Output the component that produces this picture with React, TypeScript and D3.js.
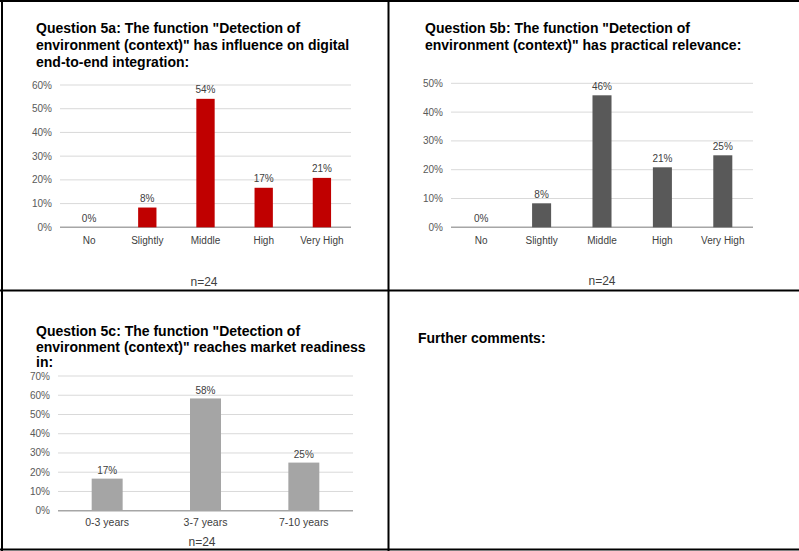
import React from "react";
import * as d3 from "d3";

// Survey results, n = 24 respondents per question
const ratingCategories = ["No", "Slightly", "Middle", "High", "Very High"];
const influenceValues = [0, 2 / 24, 13 / 24, 4 / 24, 5 / 24];
const relevanceValues = [0, 2 / 24, 11 / 24, 5 / 24, 6 / 24];

const readinessCategories = ["0-3 years", "3-7 years", "7-10 years"];
const readinessValues = [4 / 24, 14 / 24, 6 / 24];

const influenceTicks = [0, 0.1, 0.2, 0.3, 0.4, 0.5, 0.6];
const relevanceTicks = [0, 0.1, 0.2, 0.3, 0.4, 0.5];
const readinessTicks = [0, 0.1, 0.2, 0.3, 0.4, 0.5, 0.6, 0.7];

const sampleLabel = "n=24";

const titleA = [
  'Question 5a: The function "Detection of',
  'environment (context)" has influence on digital',
  "end-to-end integration:",
];
const titleB = [
  'Question 5b: The function "Detection of',
  'environment (context)" has practical relevance:',
];
const titleC = [
  'Question 5c: The function "Detection of',
  'environment (context)" reaches market readiness',
  "in:",
];

const FONT = "'Liberation Sans', Arial, Helvetica, sans-serif";
const pct = d3.format(".0%");

type PanelProps = {
  categories: string[];
  values: number[];
  ticks: number[];
  color: string;
  x0: number;
  x1: number;
  yTop: number;
  yBottom: number;
  title: string[];
  titleX: number;
  titleY: number;
  titleStep: number;
  catLabelY: number;
  nX: number;
  nY: number;
  catSize: number;
  valueGap: number;
};

function BarPanel(p: PanelProps) {
  const x = d3
    .scaleBand<string>()
    .domain(p.categories)
    .range([p.x0, p.x1])
    .paddingInner(0.685)
    .paddingOuter(0.3425);
  const y = d3
    .scaleLinear()
    .domain([0, p.ticks[p.ticks.length - 1]])
    .range([p.yBottom, p.yTop]);

  return (
    <g fontFamily={FONT}>
      {p.title.map((line, i) => (
        <text
          key={i}
          x={p.titleX}
          y={p.titleY + i * p.titleStep}
          fontSize={14}
          fontWeight="bold"
          fill="#000"
        >
          {line}
        </text>
      ))}
      {p.ticks.map((t) => (
        <g key={t}>
          <line
            x1={p.x0}
            x2={p.x1}
            y1={y(t)}
            y2={y(t)}
            stroke={t === 0 ? "#a6a6a6" : "#d9d9d9"}
            strokeWidth={t === 0 ? 1.5 : 1}
          />
          <text
            x={p.x0 - 8}
            y={y(t)}
            dy="0.35em"
            textAnchor="end"
            fontSize={10}
            fill="#595959"
          >
            {pct(t)}
          </text>
        </g>
      ))}
      {p.categories.map((c, i) => {
        const v = p.values[i];
        const bx = x(c) as number;
        const cx = bx + x.bandwidth() / 2;
        return (
          <g key={c}>
            {v > 0 && (
              <rect
                x={bx}
                y={y(v)}
                width={x.bandwidth()}
                height={y(0) - y(v)}
                fill={p.color}
              />
            )}
            <text
              x={cx}
              y={y(v) - p.valueGap}
              textAnchor="middle"
              fontSize={10}
              fill="#404040"
            >
              {pct(v)}
            </text>
            <text
              x={cx}
              y={p.catLabelY}
              textAnchor="middle"
              fontSize={p.catSize}
              fill="#404040"
            >
              {c}
            </text>
          </g>
        );
      })}
      <text
        x={p.nX}
        y={p.nY}
        textAnchor="middle"
        fontSize={12}
        fill="#404040"
      >
        {sampleLabel}
      </text>
    </g>
  );
}

export default function App() {
  return (
    <svg
      width={799}
      height={551}
      style={{ position: "absolute", left: 0, top: 0, background: "#fff" }}
    >
      <rect width={799} height={551} fill="#fff" />
      {/* table grid */}
      <g stroke="#000" strokeWidth={2}>
        <line x1={0} x2={799} y1={1} y2={1} />
        <line x1={2} x2={2} y1={0} y2={551} />
        <line x1={388.5} x2={388.5} y1={0} y2={551} />
        <line x1={0} x2={799} y1={290.5} y2={290.5} />
        <line x1={0} x2={799} y1={549.5} y2={549.5} />
      </g>

      <BarPanel
        categories={ratingCategories}
        values={influenceValues}
        ticks={influenceTicks}
        color="#c00000"
        x0={60}
        x1={351}
        yTop={85}
        yBottom={227.3}
        title={titleA}
        titleX={36}
        titleY={33.3}
        titleStep={16.6}
        catLabelY={244}
        nX={204}
        nY={286}
        catSize={10}
        valueGap={5.5}
      />
      <BarPanel
        categories={ratingCategories}
        values={relevanceValues}
        ticks={relevanceTicks}
        color="#595959"
        x0={451}
        x1={753}
        yTop={83.3}
        yBottom={227.3}
        title={titleB}
        titleX={425}
        titleY={33.3}
        titleStep={16.6}
        catLabelY={243.5}
        nX={602}
        nY={285}
        catSize={10}
        valueGap={5.5}
      />
      <BarPanel
        categories={readinessCategories}
        values={readinessValues}
        ticks={readinessTicks}
        color="#a5a5a5"
        x0={58}
        x1={353}
        yTop={376}
        yBottom={510.7}
        title={titleC}
        titleX={36}
        titleY={336}
        titleStep={15.5}
        catLabelY={526}
        nX={202}
        nY={546}
        catSize={10.5}
        valueGap={4.5}
      />

      <text
        x={418}
        y={343}
        fontFamily={FONT}
        fontSize={14}
        fontWeight="bold"
        fill="#000"
      >
        Further comments:
      </text>
    </svg>
  );
}
